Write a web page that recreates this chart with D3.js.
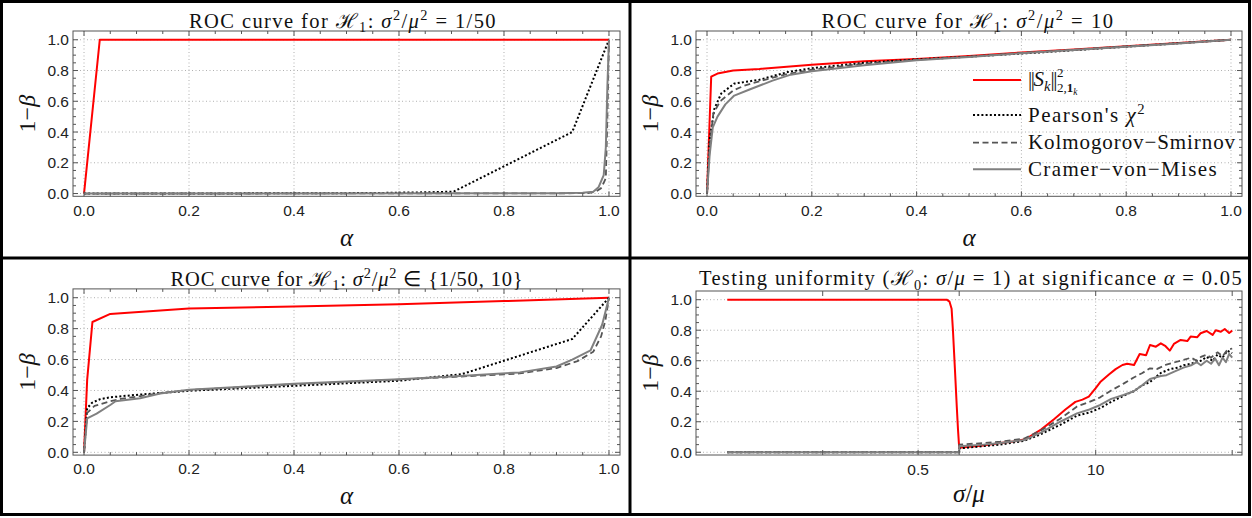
<!DOCTYPE html>
<html>
<head>
<meta charset="utf-8">
<script src="https://cdn.jsdelivr.net/npm/d3@7"></script>
<style>
  body { margin: 0; background: #fff; }
  svg { display: block; }
</style>
</head>
<body>
<script>
// ---- data ----
// panel 1: ROC for sigma^2/mu^2 = 1/50
const p1Red     = [[0,0],[0.03,1],[1,1]];
const p1Pearson = [[0,0],[0.3,0.001],[0.55,0.003],[0.65,0.008],[0.7,0.012],[0.705,0.014],[0.93,0.4],[1,1]];
const p1KS      = [[0,0],[0.9,0.001],[0.96,0.003],[0.975,0.012],[0.985,0.035],[0.99,0.07],[0.994,0.1],[0.997,0.5],[1,1]];
const p1CvM     = [[0,0],[0.9,0.002],[0.95,0.005],[0.97,0.012],[0.98,0.04],[0.99,0.12],[0.994,0.3],[0.997,0.7],[1,1]];

// panel 2: ROC for sigma^2/mu^2 = 10
const p2Red     = [[0,0],[0.008,0.76],[0.02,0.78],[0.05,0.8],[0.1,0.81],[0.2,0.838],[0.3,0.86],[0.4,0.875],[0.5,0.895],[0.6,0.917],[0.7,0.937],[0.8,0.958],[0.9,0.979],[1,1]];
const p2Pearson = [[0,0],[0.005,0.35],[0.014,0.55],[0.027,0.65],[0.052,0.715],[0.1,0.74],[0.154,0.79],[0.2,0.815],[0.3,0.85],[0.4,0.872],[0.5,0.89],[0.6,0.91],[0.7,0.932],[0.8,0.955],[0.9,0.977],[1,1]];
const p2KS      = [[0,0],[0.005,0.3],[0.012,0.52],[0.025,0.6],[0.05,0.67],[0.07,0.7],[0.1,0.73],[0.15,0.775],[0.2,0.805],[0.3,0.845],[0.4,0.87],[0.5,0.89],[0.6,0.915],[0.7,0.935],[0.8,0.957],[0.9,0.978],[1,1]];
const p2CvM     = [[0,0],[0.005,0.25],[0.011,0.43],[0.02,0.5],[0.035,0.58],[0.052,0.637],[0.08,0.675],[0.125,0.734],[0.16,0.773],[0.2,0.795],[0.3,0.835],[0.4,0.866],[0.5,0.888],[0.6,0.912],[0.7,0.933],[0.8,0.954],[0.9,0.976],[1,1]];

// panel 3: ROC for sigma^2/mu^2 in {1/50, 10}
const p3Red     = [[0,0],[0.006,0.47],[0.016,0.843],[0.05,0.895],[0.07,0.9],[0.2,0.93],[0.4,0.943],[0.6,0.958],[0.8,0.978],[1,1]];
const p3Pearson = [[0,0],[0.006,0.285],[0.015,0.32],[0.03,0.343],[0.05,0.356],[0.094,0.37],[0.2,0.398],[0.4,0.43],[0.6,0.463],[0.72,0.506],[0.93,0.733],[1,1]];
const p3KS      = [[0,0],[0.006,0.255],[0.02,0.3],[0.05,0.33],[0.07,0.345],[0.1,0.36],[0.15,0.385],[0.2,0.403],[0.4,0.44],[0.6,0.47],[0.7,0.487],[0.83,0.51],[0.9,0.545],[0.94,0.59],[0.97,0.65],[0.985,0.75],[0.993,0.85],[1,1]];
const p3CvM     = [[0,0],[0.006,0.22],[0.024,0.25],[0.05,0.306],[0.06,0.33],[0.107,0.35],[0.145,0.38],[0.2,0.405],[0.4,0.443],[0.6,0.472],[0.7,0.49],[0.83,0.517],[0.9,0.555],[0.93,0.6],[0.965,0.66],[0.987,0.825],[1,1]];

// panel 4: power vs sigma/mu at alpha = 0.05 (log x)
const p4Red     = [[0.02,1],[0.81,1],[0.85,0.987],[0.88,0.94],[0.9,0.8],[0.93,0.55],[0.96,0.3],[0.98,0.15],[1,0.03],[1.5,0.045],[2,0.06],[2.5,0.07],[3.05,0.085],[4,0.15],[5,0.22],[6,0.28],[7.1,0.33],[8,0.345],[8.9,0.365],[10,0.42],[10.8,0.46],[12.5,0.51],[14,0.545],[15.7,0.572],[17,0.58],[19.1,0.572],[21,0.644],[23.4,0.636],[25,0.703],[27.6,0.692],[30,0.714],[32.5,0.695],[34.9,0.666],[37.4,0.71],[41.9,0.736],[46.9,0.729],[49.6,0.758],[55.5,0.754],[58.7,0.78],[65,0.795],[71.9,0.769],[75.8,0.8],[82.6,0.79],[88.2,0.808],[95,0.782],[100,0.797]];
const p4Pearson = [[0.02,0],[1,0],[1,0.025],[1.5,0.04],[2,0.05],[3,0.075],[4,0.12],[5.5,0.18],[7.3,0.24],[9,0.26],[10.8,0.29],[13,0.33],[16,0.37],[19,0.4],[22,0.44],[25,0.46],[30,0.52],[35,0.545],[40,0.555],[44,0.57],[50,0.58],[59,0.6],[65,0.625],[72,0.6],[78,0.64],[85,0.62],[92,0.665],[100,0.65]];
const p4KS      = [[0.02,0],[1,0],[1,0.05],[1.5,0.06],[2,0.07],[3,0.09],[4,0.145],[5.5,0.22],[7.3,0.3],[9,0.33],[10.8,0.36],[13,0.405],[16,0.45],[19,0.49],[22,0.52],[25,0.55],[28,0.545],[33,0.575],[38,0.59],[44,0.605],[50,0.62],[55,0.6],[59,0.625],[65,0.64],[70,0.62],[78,0.655],[85,0.63],[92,0.67],[100,0.68]];
const p4CvM     = [[0.02,0],[1,0],[1,0.04],[1.5,0.05],[2,0.06],[3,0.08],[4,0.13],[5.5,0.2],[7.3,0.255],[9,0.28],[10.8,0.31],[13,0.35],[16,0.375],[19,0.4],[22,0.44],[25,0.48],[30,0.5],[33,0.505],[38,0.53],[44,0.555],[50,0.57],[55,0.59],[59,0.57],[65,0.6],[70,0.58],[75,0.615],[80,0.57],[85,0.62],[90,0.59],[95,0.645],[100,0.62]];

// ticks
const majorTicks = [0, 0.2, 0.4, 0.6, 0.8, 1.0];
const minorTicks = d3.range(0, 1.0001, 0.05).filter(v => Math.abs(v * 5 - Math.round(v * 5)) > 1e-6);
const logTicks   = [0.1, 0.5, 1, 10, 100];
const logLabels  = [0.5, 10];

const legendNames = ["Pearson's ", 'Kolmogorov\u2212Smirnov', 'Cramer\u2212von\u2212Mises'];

// ---- styles of the four curves ----
const styles = [
  {color: '#ff0000', width: 2,   dash: null},
  {color: '#000000', width: 2,   dash: '2,2.2'},
  {color: '#555555', width: 1.8, dash: '6,3.5'},
  {color: '#808080', width: 2,   dash: null}
];

const svg = d3.select('body').append('svg').attr('width', 1252).attr('height', 518);

// rich text: segments of {t, it, sub, sup}
const rich = (text, segs, size) => {
  let shift = 0;
  for (const s of segs) {
    const target = s.sup ? -0.38 * size : s.sub ? 0.22 * size : 0;
    const ts = text.append('tspan').text(s.t).attr('dy', target - shift);
    shift = target;
    if (s.sup || s.sub) ts.attr('font-size', size * 0.7);
    if (s.it) ts.attr('font-style', 'italic');
    if (s.ls != null) ts.attr('letter-spacing', s.ls);
  }
  return text;
};

// spread letters so the line takes the width it has in the reference
const fit = (text, target) => {
  const n = text.text().length;
  const len = text.node().getComputedTextLength();
  text.attr('letter-spacing', ((target - len) / n).toFixed(3));
};

const panels = [
  {
    title: [{t: 'ROC curve for '}, {t: '\u210B'}, {t: '1', sub: 1}, {t: ': '}, {t: '\u03C3', it: 1}, {t: '2', sup: 1}, {t: '/'}, {t: '\u03BC', it: 1}, {t: '2', sup: 1}, {t: ' = 1/50'}],
    titleX: 343, titleY: 27.5, titleW: 308,
    frame: [73, 620, 31, 196.3], series: [p1Red, p1Pearson, p1KS, p1CvM], log: false,
    xlab: [{t: '\u03B1', it: 1}], xlabY: 246, tickY: 216
  },
  {
    title: [{t: 'ROC curve for '}, {t: '\u210B'}, {t: '1', sub: 1}, {t: ': '}, {t: '\u03C3', it: 1}, {t: '2', sup: 1}, {t: '/'}, {t: '\u03BC', it: 1}, {t: '2', sup: 1}, {t: ' = 10'}],
    titleX: 968, titleY: 27.5, titleW: 293,
    frame: [696, 1242, 31, 196.3], series: [p2Red, p2Pearson, p2KS, p2CvM], log: false, legend: true,
    xlab: [{t: '\u03B1', it: 1}], xlabY: 246, tickY: 216
  },
  {
    title: [{t: 'ROC curve for '}, {t: '\u210B'}, {t: '1', sub: 1}, {t: ': '}, {t: '\u03C3', it: 1}, {t: '2', sup: 1}, {t: '/'}, {t: '\u03BC', it: 1}, {t: '2', sup: 1}, {t: ' \u2208 {1/50, 10}'}],
    titleX: 347, titleY: 285.5, titleW: 353,
    frame: [73, 620, 288.9, 455.1], series: [p3Red, p3Pearson, p3KS, p3CvM], log: false,
    xlab: [{t: '\u03B1', it: 1}], xlabY: 504, tickY: 474
  },
  {
    title: [{t: 'Testing uniformity ('}, {t: '\u210B'}, {t: '0', sub: 1}, {t: ': '}, {t: '\u03C3', it: 1}, {t: '/'}, {t: '\u03BC', it: 1}, {t: ' = 1) at significance '}, {t: '\u03B1', it: 1}, {t: ' = 0.05'}],
    titleX: 971, titleY: 285, titleW: 544,
    frame: [696, 1242, 291, 455], series: [p4Red, p4Pearson, p4KS, p4CvM], log: true,
    xlab: [{t: '\u03C3', it: 1}, {t: '/'}, {t: '\u03BC', it: 1}], xlabY: 502, tickY: 475
  }
];

const serif = "'Liberation Serif', 'Times New Roman', serif";
const sans  = "'Liberation Sans', Arial, sans-serif";

for (const p of panels) {
  const [fl, fr, ft, fb] = p.frame;
  const x = p.log
    ? d3.scaleLog().domain([0.0118, 118]).range([fl, fr])
    : d3.scaleLinear().domain([-0.021, 1.021]).range([fl, fr]);
  const y = d3.scaleLinear().domain([-0.018, 1.057]).range([fb, ft]);
  const g = svg.append('g');

  // dotted grid
  const grid = g.append('g').attr('stroke', '#b0b0b0').attr('stroke-width', 1).attr('stroke-dasharray', '1,2.5');
  for (const v of majorTicks) {
    grid.append('line').attr('x1', fl).attr('x2', fr).attr('y1', y(v)).attr('y2', y(v));
  }
  for (const v of (p.log ? logLabels : majorTicks)) {
    grid.append('line').attr('x1', x(v)).attr('x2', x(v)).attr('y1', ft).attr('y2', fb);
  }

  // curves
  const line = d3.line().x(d => x(d[0])).y(d => y(d[1]));
  p.series.forEach((s, i) => {
    const st = styles[i];
    g.append('path').datum(s).attr('d', line)
      .attr('fill', 'none').attr('stroke', st.color).attr('stroke-width', st.width)
      .attr('stroke-dasharray', st.dash).attr('stroke-linejoin', 'round');
  });

  // frame and inward ticks on all four sides
  const fg = g.append('g').attr('stroke', '#555').attr('stroke-width', 1);
  fg.append('rect').attr('x', fl).attr('y', ft).attr('width', fr - fl).attr('height', fb - ft).attr('fill', 'none');
  const yTicks = majorTicks.map(v => [v, 5]).concat(minorTicks.map(v => [v, 3]));
  for (const [v, len] of yTicks) {
    fg.append('line').attr('x1', fl).attr('x2', fl + len).attr('y1', y(v)).attr('y2', y(v));
    fg.append('line').attr('x1', fr).attr('x2', fr - len).attr('y1', y(v)).attr('y2', y(v));
  }
  const xTicks = p.log ? logTicks.map(v => [v, 5]) : yTicks;
  for (const [v, len] of xTicks) {
    fg.append('line').attr('x1', x(v)).attr('x2', x(v)).attr('y1', fb).attr('y2', fb - len);
    fg.append('line').attr('x1', x(v)).attr('x2', x(v)).attr('y1', ft).attr('y2', ft + len);
  }

  // tick labels
  const tl = g.append('g').attr('font-family', sans).attr('font-size', 15.5).attr('fill', '#222');
  for (const v of majorTicks) {
    tl.append('text').attr('x', fl - 4).attr('y', y(v)).attr('dy', '0.36em')
      .attr('text-anchor', 'end').text(d3.format('.1f')(v));
  }
  for (const v of (p.log ? logLabels : majorTicks)) {
    tl.append('text').attr('x', x(v)).attr('y', p.tickY).attr('text-anchor', 'middle')
      .text(p.log ? String(v) : d3.format('.1f')(v));
  }

  // axis labels
  const cx = (fl + fr) / 2, cy = (ft + fb) / 2;
  rich(g.append('text').attr('x', cx).attr('y', p.xlabY).attr('text-anchor', 'middle')
    .attr('font-family', serif).attr('font-size', 25).attr('fill', '#111'), p.xlab, 25);
  rich(g.append('text').attr('transform', `translate(${fl - 38},${cy}) rotate(-90)`).attr('text-anchor', 'middle')
    .attr('font-family', serif).attr('font-size', 24).attr('fill', '#111'), [{t: '1\u2212'}, {t: '\u03B2', it: 1}], 24);

  // title
  const title = rich(g.append('text').attr('x', p.titleX).attr('y', p.titleY).attr('text-anchor', 'middle')
    .attr('font-family', serif).attr('font-size', 20.5).attr('fill', '#111'), p.title, 20.5);
  fit(title, p.titleW);

  if (p.legend) {
    const lx0 = 973, lx1 = 1021, tx = 1028;
    const rows = [80, 115, 142.7, 169.3];
    const lg = g.append('g').attr('font-family', serif).attr('font-size', 21).attr('fill', '#111');
    rows.forEach((ry, i) => {
      const st = styles[i];
      lg.append('line').attr('x1', lx0).attr('x2', lx1).attr('y1', ry).attr('y2', ry)
        .attr('stroke', st.color).attr('stroke-width', st.width).attr('stroke-dasharray', st.dash);
    });
    // ||S_k||^2_{2,1_k}: norm bars, then stacked super- and subscript
    const t0 = rich(lg.append('text').attr('x', tx).attr('y', rows[0] + 6),
      [{t: '||', ls: -1.5}, {t: 'S', it: 1}, {t: 'k', sub: 1, it: 1}, {t: '||', ls: -1.5}], 21);
    const w0 = t0.node().getComputedTextLength();
    lg.append('text').attr('x', tx + w0 + 1).attr('y', rows[0] - 3.5).attr('font-size', 13).text('2');
    const sb = lg.append('text').attr('x', tx + w0 + 1).attr('y', rows[0] + 12).attr('font-size', 13);
    sb.append('tspan').text('2,');
    sb.append('tspan').text('1').attr('font-weight', 'bold');
    sb.append('tspan').text('k').attr('font-style', 'italic').attr('font-size', 9.5).attr('dy', 2.5);

    const targets = [118, 208, 190];
    legendNames.forEach((name, i) => {
      const segs = i === 0 ? [{t: name}, {t: '\u03C7', it: 1}, {t: '2', sup: 1}] : [{t: name}];
      const t = rich(lg.append('text').attr('x', tx).attr('y', rows[i + 1] + 6.5), segs, 21);
      fit(t, targets[i]);
    });
  }
}

// black panel borders
const border = svg.append('g').attr('stroke', '#000').attr('stroke-width', 3).attr('fill', 'none');
border.append('rect').attr('x', 1.5).attr('y', 1.5).attr('width', 1248).attr('height', 513);
border.append('line').attr('x1', 630).attr('x2', 630).attr('y1', 0).attr('y2', 516);
border.append('line').attr('x1', 0).attr('x2', 1251).attr('y1', 258).attr('y2', 258);
</script>
</body>
</html>
